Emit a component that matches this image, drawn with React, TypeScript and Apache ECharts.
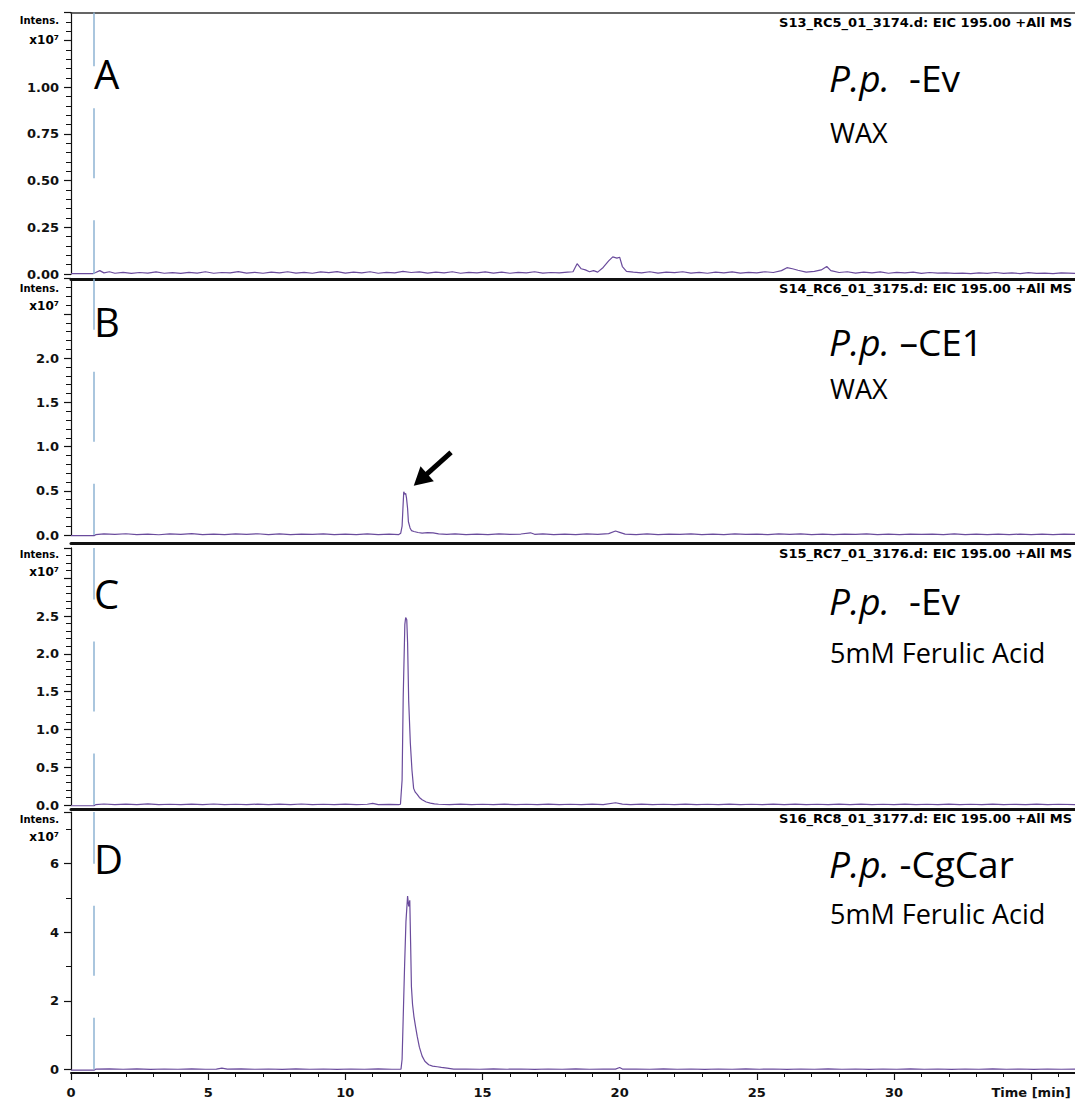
import React, { useEffect, useRef } from "react";
import * as echarts from "echarts";

// ---------- data (intensity in units of 10^7, time in min) ----------
const timeMax = 36.6;
const markerTime = 0.84;
const timeAxisTitle = "Time [min]";

const panelLetters = ["A", "B", "C", "D"];
const fileLabels = [
  "S13_RC5_01_3174.d: EIC 195.00 +All MS",
  "S14_RC6_01_3175.d: EIC 195.00 +All MS",
  "S15_RC7_01_3176.d: EIC 195.00 +All MS",
  "S16_RC8_01_3177.d: EIC 195.00 +All MS",
];
const strainPrefix = "P.p.";
const strainLabels = ["  -Ev", " \u2013CE1", "  -Ev", " -CgCar"];
const conditionLabels = ["WAX", "WAX", "5mM Ferulic Acid", "5mM Ferulic Acid"];

const yMaxes = [1.4, 2.9, 3.4, 7.5];
const yLabelIntervals = [0.25, 0.5, 0.5, 2];
const yMinorIntervals = [0.05, 0.1, 0.1, 1];
const yLabelTops = [1.0, 2.0, 2.5, 6];
const yDecimals = [2, 1, 1, 0];

// highlighted product peak in panel B
const arrowTarget: [number, number] = [12.13, 0.49];

const eicA: [number, number][] = [
  [0, 0.002], [0.8, 0.002], [0.9, 0.008], [1.05, 0.018], [1.2, 0.006], [1.4, 0.012], [1.6, 0.004], [1.9, 0.009],
  [2.2, 0.003], [2.5, 0.008], [2.8, 0.005], [3.1, 0.011], [3.4, 0.004], [3.7, 0.007], [4.0, 0.003], [4.3, 0.009],
  [4.6, 0.005], [4.9, 0.012], [5.2, 0.004], [5.5, 0.008], [5.8, 0.006], [6.1, 0.013], [6.4, 0.005], [6.7, 0.009],
  [7.0, 0.004], [7.3, 0.01], [7.6, 0.006], [7.9, 0.012], [8.2, 0.005], [8.5, 0.009], [8.8, 0.004], [9.1, 0.011],
  [9.4, 0.007], [9.7, 0.013], [10.0, 0.005], [10.3, 0.01], [10.6, 0.006], [10.9, 0.012], [11.2, 0.004], [11.5, 0.009],
  [11.8, 0.006], [12.1, 0.014], [12.4, 0.008], [12.7, 0.011], [13.0, 0.005], [13.3, 0.01], [13.6, 0.006], [13.9, 0.012],
  [14.2, 0.004], [14.5, 0.009], [14.8, 0.006], [15.1, 0.011], [15.4, 0.005], [15.7, 0.01], [16.0, 0.004], [16.3, 0.009],
  [16.6, 0.006], [16.9, 0.012], [17.2, 0.005], [17.5, 0.008], [17.8, 0.006], [18.1, 0.01], [18.3, 0.012], [18.45, 0.055],
  [18.6, 0.028], [18.75, 0.022], [18.9, 0.012], [19.05, 0.018], [19.2, 0.01], [19.4, 0.035], [19.6, 0.07], [19.75, 0.092],
  [19.9, 0.085], [20.0, 0.09], [20.1, 0.04], [20.25, 0.014], [20.5, 0.01], [20.8, 0.006], [21.1, 0.012], [21.4, 0.005],
  [21.7, 0.01], [22.0, 0.007], [22.3, 0.012], [22.6, 0.005], [22.9, 0.009], [23.2, 0.004], [23.5, 0.01], [23.8, 0.006],
  [24.1, 0.011], [24.4, 0.005], [24.7, 0.009], [25.0, 0.006], [25.3, 0.012], [25.6, 0.008], [25.9, 0.018], [26.1, 0.034],
  [26.3, 0.028], [26.5, 0.02], [26.8, 0.01], [27.1, 0.014], [27.35, 0.022], [27.55, 0.04], [27.7, 0.018], [28.0, 0.008],
  [28.3, 0.012], [28.6, 0.005], [28.9, 0.01], [29.2, 0.006], [29.5, 0.011], [29.8, 0.004], [30.1, 0.009], [30.4, 0.006],
  [30.7, 0.01], [31.0, 0.003], [31.3, 0.008], [31.6, 0.005], [31.9, 0.006], [32.2, 0.003], [32.5, 0.005], [32.8, 0.002],
  [33.1, 0.006], [33.4, 0.003], [33.7, 0.008], [34.0, 0.003], [34.3, 0.006], [34.6, 0.002], [34.9, 0.007], [35.2, 0.003],
  [35.5, 0.005], [35.8, 0.002], [36.1, 0.006], [36.6, 0.003],
];

const eicB: [number, number][] = [
  [0, -0.008], [0.84, -0.008], [0.9, 0.004], [1.2, 0.012], [1.6, 0.006], [2.0, 0.014], [2.4, 0.004], [2.8, 0.01],
  [3.2, 0.003], [3.6, 0.012], [4.0, 0.006], [4.4, 0.015], [4.8, 0.005], [5.2, 0.011], [5.6, 0.004], [6.0, 0.013],
  [6.4, 0.007], [6.8, 0.014], [7.2, 0.005], [7.6, 0.012], [8.0, 0.004], [8.4, 0.01], [8.8, 0.006], [9.2, 0.013],
  [9.6, 0.004], [10.0, 0.011], [10.4, 0.005], [10.8, 0.012], [11.2, 0.004], [11.6, 0.009], [11.95, 0.005], [12.02, 0.02],
  [12.07, 0.1], [12.1, 0.3], [12.13, 0.49], [12.17, 0.46], [12.2, 0.47], [12.23, 0.42], [12.27, 0.3], [12.3, 0.15],
  [12.36, 0.08], [12.41, 0.05], [12.5, 0.04], [12.65, 0.028], [12.8, 0.022], [13.0, 0.026], [13.2, 0.025], [13.4, 0.012],
  [13.7, 0.006], [14.0, 0.013], [14.4, 0.005], [14.8, 0.01], [15.2, 0.004], [15.6, 0.012], [16.0, 0.006], [16.4, 0.011],
  [16.75, 0.025], [16.9, 0.008], [17.2, 0.012], [17.6, 0.005], [18.0, 0.01], [18.4, 0.004], [18.8, 0.012], [19.2, 0.006],
  [19.6, 0.015], [19.85, 0.045], [20.0, 0.03], [20.2, 0.01], [20.6, 0.005], [21.0, 0.012], [21.4, 0.004], [21.8, 0.01],
  [22.2, 0.006], [22.6, 0.013], [23.0, 0.005], [23.4, 0.011], [23.8, 0.004], [24.2, 0.012], [24.6, 0.006], [25.0, 0.01],
  [25.4, 0.004], [25.8, 0.013], [26.2, 0.007], [26.6, 0.012], [27.0, 0.005], [27.4, 0.01], [27.8, 0.004], [28.2, 0.011],
  [28.6, 0.006], [29.0, 0.012], [29.4, 0.005], [29.8, 0.009], [30.2, 0.004], [30.6, 0.011], [31.0, 0.006], [31.4, 0.01],
  [31.8, 0.004], [32.2, 0.012], [32.6, 0.005], [33.0, 0.009], [33.4, 0.004], [33.8, 0.011], [34.2, 0.005], [34.6, 0.01],
  [35.0, 0.004], [35.4, 0.009], [35.8, 0.005], [36.2, 0.01], [36.6, 0.006],
];

const eicC: [number, number][] = [
  [0, -0.01], [0.84, -0.01], [0.9, 0.005], [1.2, 0.013], [1.6, 0.004], [2.0, 0.011], [2.4, 0.006], [2.8, 0.014],
  [3.2, 0.005], [3.6, 0.01], [4.0, 0.004], [4.4, 0.012], [4.8, 0.006], [5.2, 0.013], [5.6, 0.005], [6.0, 0.01],
  [6.4, 0.004], [6.8, 0.012], [7.2, 0.006], [7.6, 0.011], [8.0, 0.004], [8.4, 0.013], [8.8, 0.005], [9.2, 0.01],
  [9.6, 0.006], [10.0, 0.012], [10.4, 0.004], [10.8, 0.01], [11.0, 0.022], [11.2, 0.006], [11.6, 0.009], [11.95, 0.005],
  [12.01, 0.01], [12.07, 0.33], [12.11, 1.42], [12.17, 2.39], [12.2, 2.48], [12.24, 2.45], [12.27, 2.15], [12.31, 1.38],
  [12.37, 0.82], [12.43, 0.46], [12.49, 0.22], [12.55, 0.17], [12.62, 0.14], [12.7, 0.1], [12.8, 0.07], [12.95, 0.04],
  [13.1, 0.025], [13.25, 0.015], [13.4, 0.01], [13.8, 0.005], [14.2, 0.011], [14.6, 0.004], [15.0, 0.01], [15.4, 0.006],
  [15.8, 0.012], [16.2, 0.004], [16.6, 0.01], [17.0, 0.005], [17.4, 0.012], [17.8, 0.006], [18.2, 0.01], [18.6, 0.004],
  [19.0, 0.011], [19.4, 0.006], [19.85, 0.03], [20.1, 0.012], [20.4, 0.005], [20.8, 0.011], [21.2, 0.004], [21.6, 0.01],
  [22.0, 0.006], [22.4, 0.012], [22.8, 0.004], [23.2, 0.01], [23.6, 0.005], [24.0, 0.012], [24.4, 0.006], [24.8, 0.01],
  [25.2, 0.004], [25.6, 0.011], [26.0, 0.005], [26.4, 0.012], [26.8, 0.006], [27.2, 0.01], [27.6, 0.004], [28.0, 0.011],
  [28.4, 0.006], [28.8, 0.012], [29.2, 0.004], [29.6, 0.01], [30.0, 0.005], [30.4, 0.011], [30.8, 0.004], [31.2, 0.01],
  [31.6, 0.006], [32.0, 0.012], [32.4, 0.004], [32.8, 0.01], [33.2, 0.005], [33.6, 0.011], [34.0, 0.004], [34.4, 0.01],
  [34.8, 0.006], [35.2, 0.011], [35.6, 0.004], [36.0, 0.01], [36.6, 0.005],
];

const eicD: [number, number][] = [
  [0, -0.02], [0.84, -0.02], [0.9, 0.01], [1.4, 0.02], [1.9, 0.008], [2.4, 0.018], [2.9, 0.006], [3.4, 0.015],
  [3.9, 0.007], [4.4, 0.016], [4.9, 0.008], [5.3, 0.012], [5.5, 0.04], [5.7, 0.01], [6.2, 0.016], [6.7, 0.007],
  [7.2, 0.015], [7.7, 0.006], [8.2, 0.017], [8.7, 0.008], [9.2, 0.014], [9.7, 0.006], [10.2, 0.015], [10.7, 0.007],
  [11.2, 0.016], [11.7, 0.008], [12.03, 0.01], [12.07, 0.3], [12.11, 1.5], [12.16, 3.0], [12.21, 4.3], [12.27, 5.05],
  [12.31, 4.75], [12.35, 4.93], [12.38, 3.7], [12.41, 2.41], [12.45, 1.9], [12.5, 1.55], [12.56, 1.25], [12.62, 0.97],
  [12.7, 0.65], [12.8, 0.39], [12.9, 0.24], [13.04, 0.14], [13.18, 0.1], [13.35, 0.08], [13.5, 0.06], [13.71, 0.04],
  [13.95, 0.012], [14.4, 0.015], [14.9, 0.007], [15.4, 0.016], [15.9, 0.008], [16.4, 0.014], [16.9, 0.006], [17.4, 0.015],
  [17.9, 0.007], [18.4, 0.016], [18.9, 0.008], [19.4, 0.014], [19.85, 0.012], [20.0, 0.06], [20.1, 0.012], [20.6, 0.015],
  [21.1, 0.007], [21.6, 0.016], [22.1, 0.008], [22.6, 0.014], [23.1, 0.006], [23.6, 0.015], [24.1, 0.007], [24.6, 0.016],
  [25.1, 0.008], [25.6, 0.014], [26.1, 0.006], [26.6, 0.015], [27.1, 0.007], [27.6, 0.016], [28.1, 0.008], [28.6, 0.014],
  [29.1, 0.006], [29.6, 0.015], [30.1, 0.007], [30.6, 0.016], [31.1, 0.008], [31.6, 0.014], [32.1, 0.006], [32.6, 0.015],
  [33.1, 0.007], [33.6, 0.016], [34.1, 0.008], [34.6, 0.014], [35.1, 0.006], [35.6, 0.015], [36.1, 0.007], [36.6, 0.012],
];

const traces = [eicA, eicB, eicC, eicD];

// ---------- layout & style ----------
const WIDTH = 1075;
const HEIGHT = 1100;
const PLOT_LEFT = 71;
const zeroY = [274, 535, 805, 1069.5];
const unitPx = [186.7, 88.4, 75.6, 34.33];
const baseOffset = [5, 8, 4, 3.5];
const letterY = [73, 321, 593, 858];
const strainY = [77, 341, 600, 863];
const conditionY = [132, 388, 652, 913];
const headerY = [22, 288, 553, 818];
const intensY = [20, 288, 554, 819];
const expY = [40, 306, 572, 837];

const TRACE_COLOR = "#6a4b9c";
const MARKER_COLOR = "#8fb4d4";
const AXIS_COLOR = "#111";
const TICK_FONT = "'DejaVu Sans', 'Liberation Sans', Arial, sans-serif";
const NOTE_FONT = "'Open Sans', 'Noto Sans', sans-serif";

const gridTop = (i: number) => zeroY[i] - yMaxes[i] * unitPx[i];
const gridHeight = (i: number) => yMaxes[i] * unitPx[i];

function buildOption(): any {
  const grids = traces.map((_, i) => ({
    left: PLOT_LEFT,
    right: 0,
    top: gridTop(i),
    height: gridHeight(i),
    containLabel: false,
    outerBoundsMode: "none",
  }));

  const xAxes: any[] = [];
  const yAxes: any[] = [];
  const series: any[] = [];

  traces.forEach((trace, i) => {
    const last = i === traces.length - 1;
    const mainX = xAxes.length;
    xAxes.push({
      type: "value",
      gridIndex: i,
      position: "bottom",
      min: 0,
      max: timeMax,
      interval: 5,
      offset: baseOffset[i],
      axisLine: { show: true, onZero: false, lineStyle: { color: AXIS_COLOR, width: last ? 2 : 3 } },
      axisTick: { show: last, length: 7, lineStyle: { color: AXIS_COLOR, width: 1.2 } },
      axisLabel: {
        show: last,
        margin: 13,
        fontFamily: TICK_FONT,
        fontWeight: "bold",
        fontSize: 13,
        color: AXIS_COLOR,
        showMaxLabel: false,
        formatter: (v: number) =>
          Math.abs(v - 35) < 1e-6 ? timeAxisTitle : v % 5 === 0 ? String(v) : "",
      },
      splitLine: { show: false },
    });
    if (last) {
      xAxes.push({
        type: "value",
        gridIndex: i,
        position: "bottom",
        min: 0,
        max: timeMax,
        interval: 1,
        offset: baseOffset[i],
        axisLine: { show: false, onZero: false },
        axisTick: { show: true, length: 4, lineStyle: { color: AXIS_COLOR, width: 1 } },
        axisLabel: { show: false },
        splitLine: { show: false },
      });
    }
    if (i === 0) {
      xAxes.push({
        type: "value",
        gridIndex: 0,
        position: "top",
        min: 0,
        max: timeMax,
        axisLine: { show: true, onZero: false, lineStyle: { color: "#333", width: 1.5 } },
        axisTick: { show: false },
        axisLabel: { show: false },
        splitLine: { show: false },
      });
    }

    const mainY = yAxes.length;
    yAxes.push({
      type: "value",
      gridIndex: i,
      position: "left",
      min: 0,
      max: yMaxes[i],
      interval: yLabelIntervals[i],
      axisLine: { show: true, onZero: false, lineStyle: { color: AXIS_COLOR, width: 1.2 } },
      axisTick: { show: true, length: 7, lineStyle: { color: AXIS_COLOR, width: 1.2 } },
      axisLabel: {
        margin: 12,
        fontFamily: TICK_FONT,
        fontWeight: "bold",
        fontSize: 13,
        color: AXIS_COLOR,
        formatter: (v: number) => (v > yLabelTops[i] + 1e-9 ? "" : v.toFixed(yDecimals[i])),
      },
      splitLine: { show: false },
    });
    yAxes.push({
      type: "value",
      gridIndex: i,
      position: "left",
      min: 0,
      max: yMaxes[i],
      interval: yMinorIntervals[i],
      axisLine: { show: false, onZero: false },
      axisTick: { show: true, length: 5, lineStyle: { color: AXIS_COLOR, width: 1 } },
      axisLabel: { show: false },
      splitLine: { show: false },
    });

    const h = gridHeight(i);
    const edgeDash = Math.max(10, (h - 154) / 2);
    series.push({
      type: "line",
      xAxisIndex: mainX,
      yAxisIndex: mainY,
      data: trace,
      showSymbol: false,
      symbol: "none",
      clip: false,
      lineStyle: { color: TRACE_COLOR, width: 1.2 },
      emphasis: { disabled: true },
      markLine: {
        silent: true,
        symbol: "none",
        label: { show: false },
        lineStyle: { color: MARKER_COLOR, width: 1.5, type: [edgeDash, 42, 70, 42, edgeDash + 20] },
        data: [{ xAxis: markerTime }],
      },
    });
  });

  return {
    animation: false,
    backgroundColor: "#fff",
    grid: grids,
    xAxis: xAxes,
    yAxis: yAxes,
    series,
  };
}

function buildGraphics(chart: echarts.ECharts): any[] {
  const g: any[] = [];
  traces.forEach((_, i) => {
    g.push({
      type: "text",
      x: 94,
      y: letterY[i],
      style: { text: panelLetters[i], font: `40px ${NOTE_FONT}`, fill: "#000", textVerticalAlign: "middle" },
    });
    g.push({
      type: "text",
      x: 829,
      y: strainY[i],
      style: {
        text: `{it|${strainPrefix}}{up|${strainLabels[i]}}`,
        textVerticalAlign: "middle",
        rich: {
          it: { fontFamily: NOTE_FONT, fontSize: 37, fontStyle: "italic", fill: "#000", color: "#000" },
          up: { fontFamily: NOTE_FONT, fontSize: 37, fill: "#000", color: "#000" },
        },
      },
    });
    g.push({
      type: "text",
      x: 830,
      y: conditionY[i],
      style: { text: conditionLabels[i], font: `27px ${NOTE_FONT}`, fill: "#000", textVerticalAlign: "middle" },
    });
    g.push({
      type: "text",
      x: 1072,
      y: headerY[i],
      style: {
        text: fileLabels[i],
        font: `bold 13px ${TICK_FONT}`,
        fill: "#000",
        textAlign: "right",
        textVerticalAlign: "middle",
      },
    });
    g.push({
      type: "text",
      x: 59,
      y: intensY[i],
      style: { text: "Intens.", font: `bold 10px ${TICK_FONT}`, fill: "#000", textAlign: "right", textVerticalAlign: "middle" },
    });
    g.push({
      type: "text",
      x: 59,
      y: expY[i],
      style: { text: "x10\u2077", font: `bold 12px ${TICK_FONT}`, fill: "#000", textAlign: "right", textVerticalAlign: "middle" },
    });
  });

  // arrow pointing at the product peak in panel B
  const p = chart.convertToPixel({ gridIndex: 1 }, arrowTarget) as number[];
  const tip = [p[0] + 10, p[1] - 6];
  const dir = [0.746, -0.666];
  const perp = [0.666, 0.746];
  const headLen = 18;
  const headHalf = 10;
  const base = [tip[0] + dir[0] * headLen, tip[1] + dir[1] * headLen];
  const tail = [tip[0] + dir[0] * 50, tip[1] + dir[1] * 50];
  g.push({
    type: "line",
    shape: { x1: base[0] - dir[0] * 2, y1: base[1] - dir[1] * 2, x2: tail[0], y2: tail[1] },
    style: { stroke: "#000", lineWidth: 5 },
  });
  g.push({
    type: "polygon",
    shape: {
      points: [
        tip,
        [base[0] + perp[0] * headHalf, base[1] + perp[1] * headHalf],
        [base[0] - perp[0] * headHalf, base[1] - perp[1] * headHalf],
      ],
    },
    style: { fill: "#000" },
  });
  return g;
}

export default function App() {
  const ref = useRef<HTMLDivElement>(null);
  useEffect(() => {
    if (!ref.current) return;
    const chart = echarts.init(ref.current, null, { renderer: "svg" });
    chart.setOption(buildOption());
    chart.setOption({ graphic: buildGraphics(chart) });
    return () => chart.dispose();
  }, []);
  return (
    <div
      ref={ref}
      style={{ position: "absolute", left: 0, top: 0, width: WIDTH, height: HEIGHT, background: "#fff" }}
    />
  );
}
